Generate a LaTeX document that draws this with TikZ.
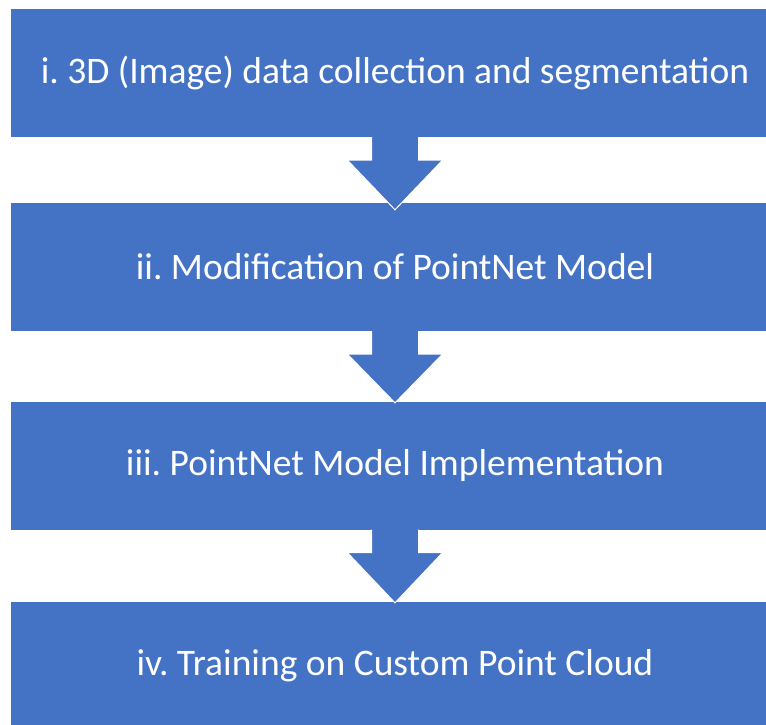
\documentclass[tikz,border=0pt]{standalone}
\usepackage{fontspec}
\setmainfont{Carlito}
\usetikzlibrary{calc}
\frenchspacing
\definecolor{officeblue}{HTML}{4472C4}
\tikzset{
  stepbox/.style={fill=officeblue, draw=none, minimum width=768pt, minimum height=128pt, inner sep=0pt,
    text=white, font=\fontsize{37.5}{42}\selectfont},
  downarrow/.style={fill=officeblue, draw=white, line width=1pt, line join=miter}
}
\begin{document}
\begin{tikzpicture}[x=1pt,y=-1pt]
\useasboundingbox (0,0) rectangle (766,724);
\node[stepbox] (b1) at (395,73) {i. 3D (Image) data collection and segmentation};
\node[stepbox] (b2) at (395,267) {ii. Modification of PointNet Model};
\node[stepbox] (b3) at (395,465.5) {iii. PointNet Model Implementation};
\node[stepbox] (b4) at (395,665.5) {iv. Training on Custom Point Cloud};
\foreach \a/\b/\t in {b1/b2/7, b2/b3/1.5, b3/b4/1.5} {
  \draw[downarrow] ($(\a.south)+(-23.5,0)$) -- ++(0,23) -- ++(-24,0)
     -- ($(\b.north)+(0,\t)$) -- ($(\a.south)+(47.5,23)$) -- ++(-24,0) -- ($(\a.south)+(23.5,0)$);
}
\end{tikzpicture}
\end{document}
